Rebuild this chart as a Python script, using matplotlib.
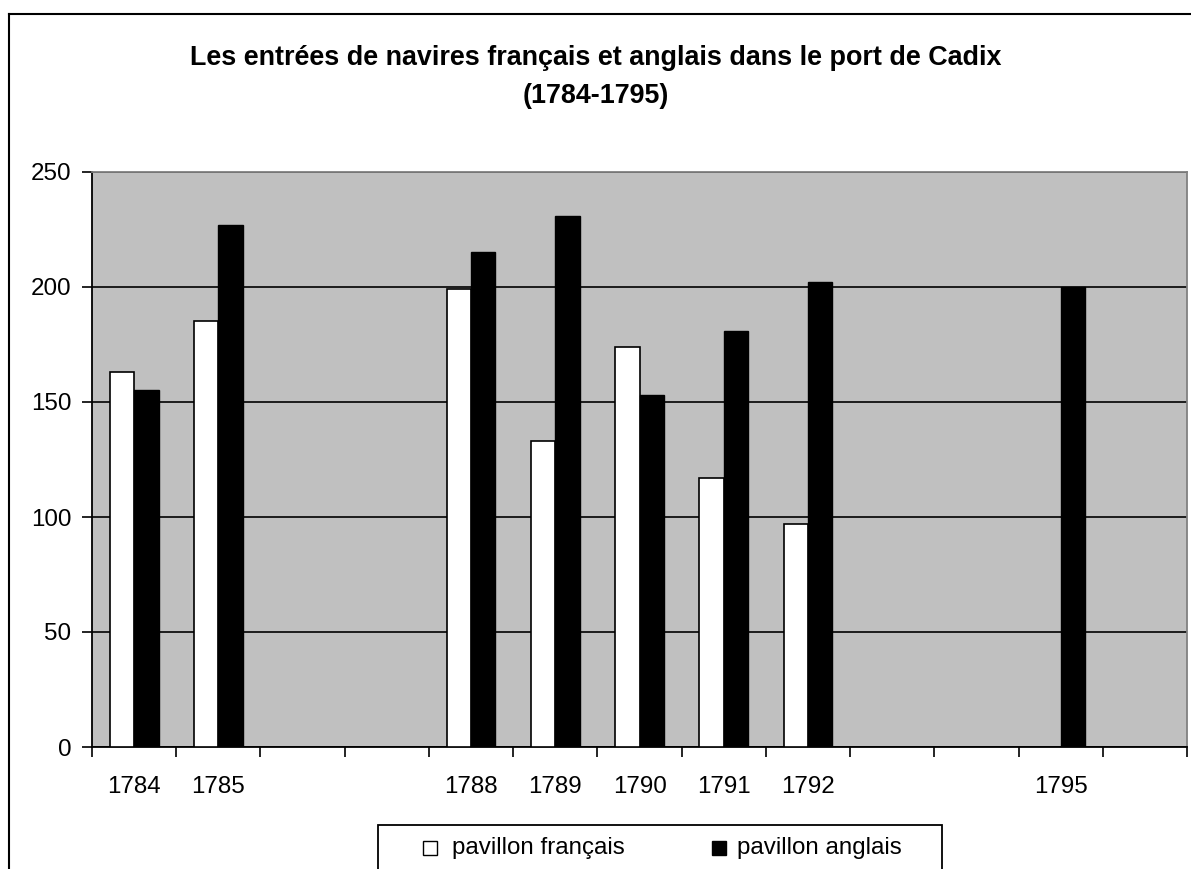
import matplotlib
matplotlib.use("Agg")
import matplotlib.pyplot as plt
from matplotlib.lines import Line2D
from matplotlib.patches import Rectangle

years = [1784, 1785, 1786, 1787, 1788, 1789, 1790, 1791, 1792, 1793, 1794, 1795, 1796]
labels = ["1784", "1785", "", "", "1788", "1789", "1790", "1791", "1792", "", "", "1795", ""]
francais = [163, 185, None, None, 199, 133, 174, 117, 97, None, None, None, None]
anglais = [155, 227, None, None, 215, 231, 153, 181, 202, None, None, 200, None]
series_names = ["pavillon français", "pavillon anglais"]
series_colors = ["white", "black"]

plt.rcParams['font.family'] = ['Liberation Sans', 'DejaVu Sans']

W, H = 1191, 869
fig = plt.figure(figsize=(W / 100, H / 100), dpi=100)
ax = fig.add_axes([92 / W, 1 - 747 / H, 1095 / W, 575 / H])
ax.set_facecolor('#c0c0c0')

bw = 0.29
for i, (f, a) in enumerate(zip(francais, anglais)):
    if f is not None:
        ax.bar(i + 0.5 - bw / 2, f, width=bw, color=series_colors[0], edgecolor='black', linewidth=1.2, zorder=3)
    if a is not None:
        ax.bar(i + 0.5 + bw / 2, a, width=bw, color=series_colors[1], edgecolor='black', linewidth=1.0, zorder=3)

ax.set_xlim(0, len(years))
ax.set_ylim(0, 250)
ax.set_yticks([0, 50, 100, 150, 200, 250])
ax.yaxis.grid(True, color='black', linewidth=1.2, zorder=1)
ax.set_axisbelow(True)

# ticks between categories, labels at category centres
ax.set_xticks(range(len(years) + 1))
ax.set_xticklabels([])
ax.set_xticks([i + 0.5 for i in range(len(years))], minor=True)
ax.set_xticklabels(labels, minor=True)
ax.tick_params(axis='x', which='major', direction='out', length=7, width=1.2, color='black')
ax.tick_params(axis='x', which='minor', length=0, pad=21, labelsize=17.4)
ax.tick_params(axis='y', direction='out', length=7, width=1.2, pad=8, labelsize=17.4)

for s in ['left', 'bottom']:
    ax.spines[s].set_color('black')
    ax.spines[s].set_linewidth(1.3)
for s in ['top', 'right']:
    ax.spines[s].set_color('#808080')
    ax.spines[s].set_linewidth(1.3)

fig.text(0.5, 1 - 65 / H, "Les entrées de navires français et anglais dans le port de Cadix",
         ha='center', va='baseline', fontsize=19.4, fontweight='bold')
fig.text(0.5, 1 - 103 / H, "(1784-1795)",
         ha='center', va='baseline', fontsize=19.4, fontweight='bold')

# legend box in the Excel style, cut by the bottom edge
fig.add_artist(Rectangle((378 / W, -0.01), (942 - 378) / W, 0.01 + (869 - 825) / H,
                         transform=fig.transFigure, facecolor='white', edgecolor='black', linewidth=1.3))
for (hx, tx), name, col in zip([(423, 452), (712, 737)], series_names, series_colors):
    fig.add_artist(Rectangle((hx / W, 1 - 855 / H), 14 / W, 14 / H, transform=fig.transFigure,
                             facecolor=col, edgecolor='black', linewidth=1.0))
    fig.text(tx / W, 1 - 854 / H, name, ha='left', va='baseline', fontsize=17.4)

# outer chart frame (only top and left edges visible)
fig.add_artist(Line2D([9 / W, 9 / W], [0, 1 - 14 / H], color='black', linewidth=1.5, transform=fig.transFigure))
fig.add_artist(Line2D([9 / W, 1], [1 - 14 / H, 1 - 14 / H], color='black', linewidth=1.5, transform=fig.transFigure))

fig.savefig("out.png", dpi=100)
